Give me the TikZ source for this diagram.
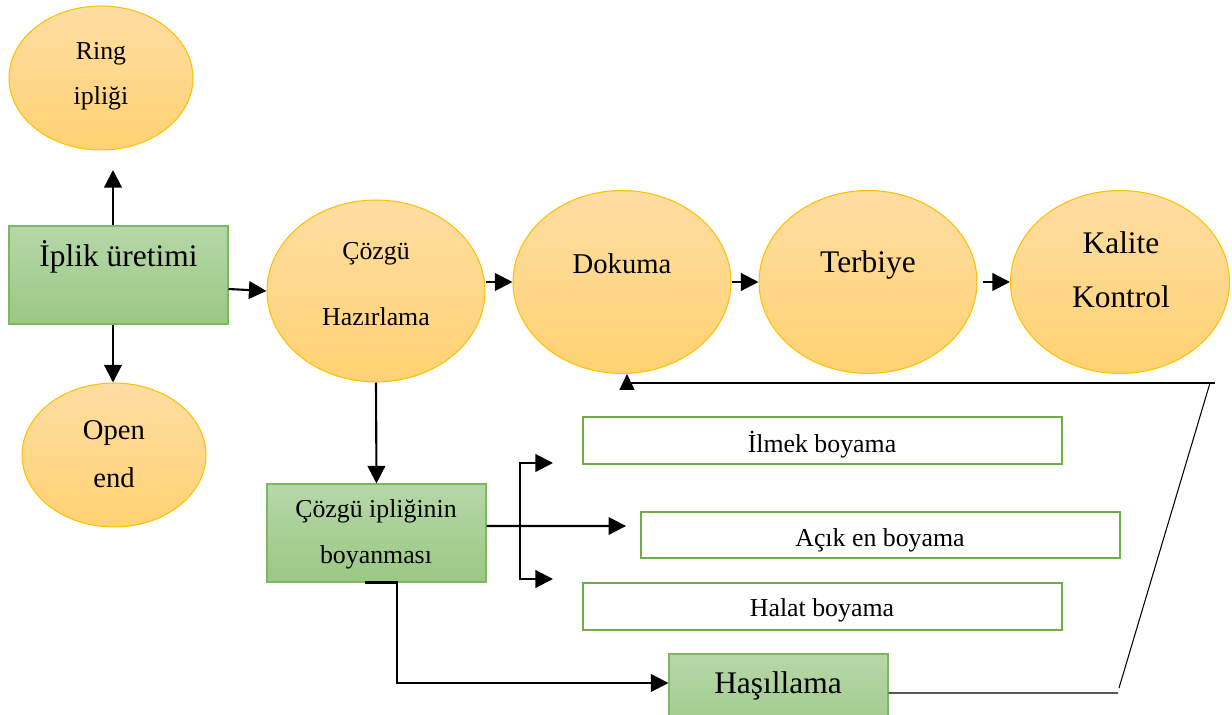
\documentclass[tikz,border=0pt]{standalone}
\usepackage{fontspec}
\setmainfont{Liberation Serif}
\usetikzlibrary{shapes.geometric,arrows.meta}
\definecolor{ellTop}{HTML}{FEDDA2}
\definecolor{ellBot}{HTML}{FFD272}
\definecolor{ellLine}{HTML}{FFC000}
\definecolor{grTop}{HTML}{B6D8A8}
\definecolor{grBot}{HTML}{9BC784}
\definecolor{grLine}{HTML}{7FB662}
\definecolor{boxLine}{HTML}{70AD47}
\begin{document}
\begin{tikzpicture}[x=0.02cm,y=-0.02cm,
  ell/.style={ellipse,draw=ellLine,line width=0.6pt,top color=ellTop,bottom color=ellBot,inner sep=0pt},
  gbox/.style={rectangle,draw=grLine,line width=0.6pt,top color=grTop,bottom color=grBot,inner sep=0pt,minimum width=4.38cm,minimum height=1.96cm},
  obox/.style={rectangle,draw=boxLine,line width=1.1pt,fill=white,inner sep=0pt,minimum width=9.58cm,minimum height=0.93cm},
  txs/.style={anchor=base,inner sep=0pt,font=\fontsize{14.7}{17}\selectfont},
  txm/.style={anchor=base,inner sep=0pt,font=\fontsize{16.3}{19}\selectfont},
  txl/.style={anchor=base,inner sep=0pt,font=\fontsize{17.9}{21}\selectfont},
  arr/.style={line width=1.2pt,-{Triangle[length=10pt,width=10pt]}},
  thinarr/.style={line width=0.6pt,-{Triangle[length=9pt,width=8.5pt]}},
  thinline/.style={line width=0.6pt}]
\useasboundingbox (0,0) rectangle (1232,715);

% ellipses
\node[ell,minimum width=3.68cm,minimum height=2.88cm] (ring) at (101,78) {};
\node[ell,minimum width=3.68cm,minimum height=2.88cm] (open) at (114,455) {};
\node[ell,minimum width=4.36cm,minimum height=3.64cm] (cozH) at (376,291) {};
\node[ell,minimum width=4.36cm,minimum height=3.66cm] (dok) at (622,282) {};
\node[ell,minimum width=4.36cm,minimum height=3.66cm] (ter) at (868,282) {};
\node[ell,minimum width=4.38cm,minimum height=3.66cm] (kal) at (1120,282) {};

% green boxes
\node[gbox] (ip) at (118.5,275) {};
\node[gbox] (cozB) at (376.5,533) {};
\node[gbox] (has) at (778.5,703) {};

% outlined boxes
\node[obox] (ilm) at (822.5,440.5) {};
\node[obox] (acik) at (880.5,535) {};
\node[obox] (hal) at (822.5,606.5) {};

% texts
\node[txs] (tRing) at (101,60) {Ring};
\node[txs] (tRing2) at (101,105) {ipliği};
\node[txm] (tOpen) at (114,440) {Open};
\node[txm] (tOpen2) at (114,488) {end};
\node[txl] (tIp) at (118.5,267) {İplik üretimi};
\node[txs] (tCoz) at (376,260) {Çözgü};
\node[txs] (tCoz2) at (376,326) {Hazırlama};
\node[txm] (tDok) at (622,274) {Dokuma};
\node[txl] (tTer) at (868,273) {Terbiye};
\node[txl] (tKal) at (1121,254) {Kalite};
\node[txl] (tKal2) at (1121,308) {Kontrol};
\node[txs] (tCB) at (376,518) {Çözgü ipliğinin};
\node[txs] (tCB2) at (376,564) {boyanması};
\node[txs] (tIlm) at (822,453) {İlmek boyama};
\node[txs] (tAcik) at (880,547) {Açık en boyama};
\node[txs] (tHal) at (822,617) {Halat boyama};
\node[txl] (tHas) at (778,694) {Haşıllama};

% connectors
\coordinate (upend) at (113,170);
\draw[arr] (ip.north -| upend) -- (upend);
\draw[arr] (ip.south -| upend) -- (open.north -| upend);
\draw[arr] ([yshift=-0.28cm]ip.east) -- (cozH.west);
\draw[arr] (dok.west -| cozH.east) -- (dok.west);
\draw[arr] (dok.east) -- (ter.west);
\draw[arr] ([xshift=0.1cm]ter.east) -- (kal.west);
\draw[arr] (cozH.south) -- (cozB.north);

\coordinate (bj) at (520,526);
\coordinate (b1) at (553,463);
\coordinate (b2) at (553,579);
\draw[arr,shorten >=0.28cm] ([yshift=0.14cm]cozB.east) -- (acik.west |- bj);
\draw[arr] (bj) |- (b1);
\draw[arr] (bj) |- (b2);

\coordinate (h1) at (397,683);
\draw[arr] ([xshift=-0.23cm]cozB.south) -| (h1) -- (h1 -| has.west);

% feedback
\coordinate (f1) at (1118,693);
\coordinate (f2) at (1119,688);
\coordinate (f3) at (1210,383);
\coordinate (f4) at (1215,383);
\coordinate (f5) at (627,383);
\draw[thinline] ([yshift=0.2cm]has.east) -- (f1);
\draw[thinline] (f2) -- (f3);
\draw[thinarr] (f4) -- (f5) -- (f5 |- dok.south);
\end{tikzpicture}
\end{document}
